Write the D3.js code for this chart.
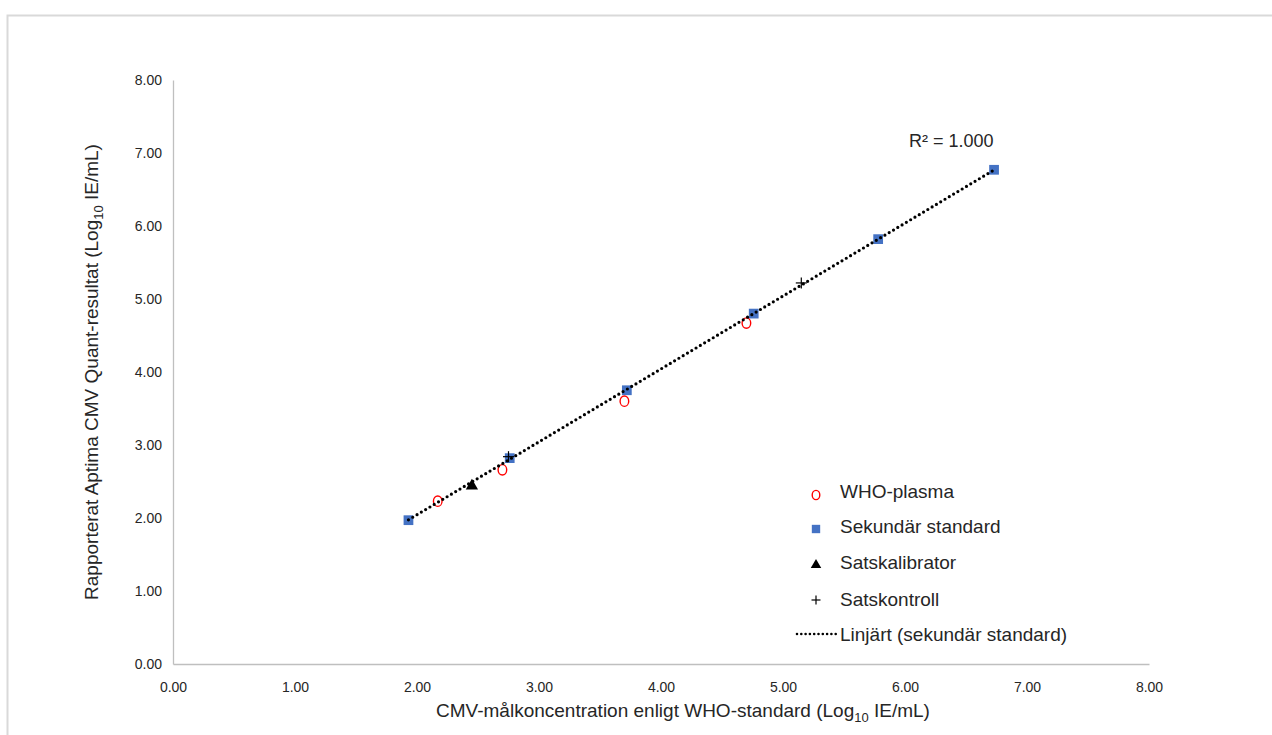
<!DOCTYPE html>
<html>
<head>
<meta charset="utf-8">
<script src="https://cdn.jsdelivr.net/npm/d3@7"></script>
<style>
  html, body { margin: 0; padding: 0; background: #fff; }
  svg { display: block; }
  .tick text { font-family: "Liberation Sans", Arial, sans-serif; }
</style>
</head>
<body>
<svg id="chart" width="1272" height="735"></svg>
<script>
// Axis ticks (Log10 IE/mL)
const xTicks = [0, 1, 2, 3, 4, 5, 6, 7, 8];
const yTicks = [0, 1, 2, 3, 4, 5, 6, 7, 8];

// WHO-plasma panel: target vs reported
const whoX = [2.17, 2.70, 3.70, 4.70];
const whoY = [2.23, 2.66, 3.60, 4.67];

// Secondary standard panel
const secX = [1.93, 2.76, 3.72, 4.76, 5.78, 6.73];
const secY = [1.97, 2.82, 3.75, 4.80, 5.82, 6.77];

// Kit calibrator
const calX = [2.45];
const calY = [2.44];

// Kit controls (low / high)
const ctrlX = [2.75, 5.15];
const ctrlY = [2.84, 5.22];

const legendLabels = ["WHO-plasma", "Sekundär standard", "Satskalibrator", "Satskontroll", "Linjärt (sekundär standard)"];

const svg = d3.select("#chart");
const W = 1272, H = 735;

// outer chart-area frame
svg.append("rect")
  .attr("x", 7.5).attr("y", 15.5)
  .attr("width", W + 20).attr("height", H + 20)
  .attr("fill", "none").attr("stroke", "#d9d9d9").attr("stroke-width", 2);

const plot = { left: 173, right: 1149, top: 80, bottom: 664 };

const x = d3.scaleLinear().domain([0, 8]).range([plot.left, plot.right]);
const y = d3.scaleLinear().domain([0, 8]).range([plot.bottom, plot.top]);

const fmt = d3.format(".2f");

// axes
const xAxis = svg.append("g")
  .attr("transform", `translate(0,${plot.bottom})`)
  .call(d3.axisBottom(x).tickValues(xTicks).tickFormat(fmt).tickSize(0).tickPadding(18));
const yAxis = svg.append("g")
  .attr("transform", `translate(${plot.left},0)`)
  .call(d3.axisLeft(y).tickValues(yTicks).tickFormat(fmt).tickSize(0).tickPadding(11));

[xAxis, yAxis].forEach(g => {
  g.select(".domain").attr("stroke", "#bfbfbf").attr("stroke-width", 1.3);
  g.selectAll(".tick text").attr("font-size", 14).attr("fill", "#262626");
});

// axis titles
const titleFont = "'Liberation Sans', Arial, sans-serif";
const xTitle = svg.append("text")
  .attr("x", (plot.left + plot.right) / 2 + 22).attr("y", 717)
  .attr("text-anchor", "middle")
  .attr("font-family", titleFont).attr("font-size", 19).attr("fill", "#262626");
xTitle.append("tspan").text("CMV-målkoncentration enligt WHO-standard (Log");
xTitle.append("tspan").attr("font-size", 13).attr("dy", 5).text("10");
xTitle.append("tspan").attr("dy", -5).text(" IE/mL)");

const yTitle = svg.append("text")
  .attr("transform", `translate(98,${(plot.top + plot.bottom) / 2}) rotate(-90)`)
  .attr("text-anchor", "middle")
  .attr("font-family", titleFont).attr("font-size", 19).attr("fill", "#262626");
yTitle.append("tspan").text("Rapporterat Aptima CMV Quant-resultat (Log");
yTitle.append("tspan").attr("font-size", 13).attr("dy", 5).text("10");
yTitle.append("tspan").attr("dy", -5).text(" IE/mL)");

// linear fit of the secondary standard
const mx = d3.mean(secX), my = d3.mean(secY);
const sxy = d3.sum(secX.map((v, i) => (v - mx) * (secY[i] - my)));
const sxx = d3.sum(secX.map(v => (v - mx) ** 2));
const slope = sxy / sxx, intercept = my - slope * mx;
const ssTot = d3.sum(secY.map(v => (v - my) ** 2));
const ssRes = d3.sum(secY.map((v, i) => (v - (slope * secX[i] + intercept)) ** 2));
const r2 = 1 - ssRes / ssTot;

const x0 = d3.min(secX), x1 = d3.max(secX);
const line = d3.line().x(d => x(d[0])).y(d => y(d[1]));

const blue = "#4472c4";
const symSquare = d3.symbol().type(d3.symbolSquare).size(95);
const symTri = d3.symbol().type(d3.symbolTriangle).size(65);

// secondary standard squares
svg.append("g").selectAll("path").data(secX.map((v, i) => [v, secY[i]])).join("path")
  .attr("transform", d => `translate(${x(d[0])},${y(d[1])})`)
  .attr("d", symSquare).attr("fill", blue);

// WHO plasma circles
svg.append("g").selectAll("ellipse").data(whoX.map((v, i) => [v, whoY[i]])).join("ellipse")
  .attr("cx", d => x(d[0])).attr("cy", d => y(d[1]))
  .attr("rx", 4.3).attr("ry", 5.2)
  .attr("fill", "none").attr("stroke", "#ff0000").attr("stroke-width", 1.4);

// kit calibrator triangle
svg.append("g").selectAll("path").data(calX.map((v, i) => [v, calY[i]])).join("path")
  .attr("transform", d => `translate(${x(d[0])},${y(d[1])})`)
  .attr("d", symTri).attr("fill", "#000");

// kit control plus
const plus = (g, cx, cy, s) => {
  g.append("line").attr("x1", cx - s).attr("x2", cx + s).attr("y1", cy).attr("y2", cy);
  g.append("line").attr("x1", cx).attr("x2", cx).attr("y1", cy - s).attr("y2", cy + s);
};
const ctrlG = svg.append("g").attr("stroke", "#000").attr("stroke-width", 1.2);
ctrlX.forEach((v, i) => plus(ctrlG, x(v), y(ctrlY[i]), 5.5));

// dotted trend line
svg.append("path")
  .datum([[x0, slope * x0 + intercept], [x1, slope * x1 + intercept]])
  .attr("d", line)
  .attr("fill", "none").attr("stroke", "#000")
  .attr("stroke-width", 3.2).attr("stroke-linecap", "round")
  .attr("stroke-dasharray", "0,5");

// R² label
svg.append("text")
  .attr("x", 909).attr("y", 147)
  .attr("font-family", titleFont).attr("font-size", 18).attr("fill", "#262626")
  .text(`R² = ${r2.toFixed(3)}`);

// legend
const legX = 816, txtX = 840;
const rows = [495, 529, 565, 600, 634];
const lg = svg.append("g");
lg.append("ellipse").attr("cx", legX).attr("cy", rows[0]).attr("rx", 3.8).attr("ry", 4.6)
  .attr("fill", "none").attr("stroke", "#ff0000").attr("stroke-width", 1.4);
lg.append("path").attr("transform", `translate(${legX},${rows[1]})`)
  .attr("d", d3.symbol().type(d3.symbolSquare).size(70)).attr("fill", blue);
lg.append("path").attr("transform", `translate(${legX},${rows[2]})`)
  .attr("d", d3.symbol().type(d3.symbolTriangle).size(48)).attr("fill", "#000");
const lp = lg.append("g").attr("stroke", "#000").attr("stroke-width", 1.2);
plus(lp, legX, rows[3], 4.5);
lg.append("line").attr("x1", 797).attr("x2", 836).attr("y1", rows[4]).attr("y2", rows[4])
  .attr("stroke", "#000").attr("stroke-width", 2.6).attr("stroke-linecap", "round")
  .attr("stroke-dasharray", "0,4.3");
lg.selectAll("text.lab").data(legendLabels).join("text").attr("class", "lab")
  .attr("x", txtX).attr("y", (d, i) => [491, 526, 562, 599, 634][i] + 7)
  .attr("font-family", titleFont).attr("font-size", 19).attr("fill", "#262626")
  .text(d => d);
</script>
</body>
</html>
